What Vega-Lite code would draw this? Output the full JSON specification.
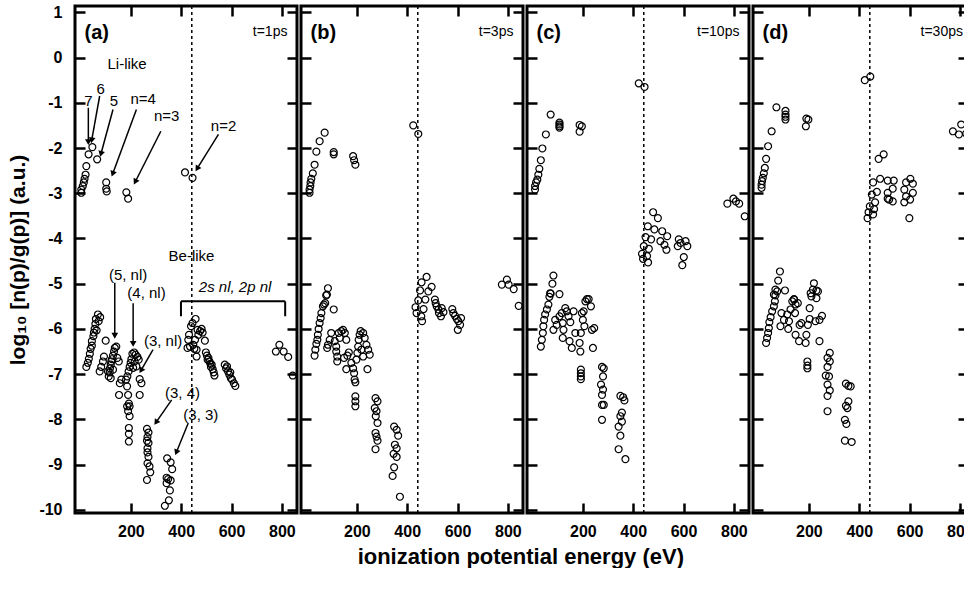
{
"$schema": "https://vega.github.io/schema/vega-lite/v6.json",
"background": "white",
"padding": {"left": 6, "top": 2, "right": 0, "bottom": 0},
"spacing": 4,
"bounds": "flush",
"title": {"text": "ionization potential energy (eV)", "orient": "bottom", "anchor": "middle", "frame": "bounds", "dx": 30, "fontSize": 22, "fontWeight": "bold", "font": "Liberation Sans", "color": "black", "offset": 6},
"config": {
  "font": "Liberation Sans",
  "view": {"stroke": "black", "strokeWidth": 3},
  "axis": {"domain": false, "grid": false, "ticks": true, "tickSize": -10, "tickWidth": 2.5, "tickColor": "black", "labelFont": "Liberation Sans", "labelFontSize": 16, "labelFontWeight": "bold", "labelColor": "black", "titleFont": "Liberation Sans", "titleColor": "black"},
  "point": {"shape": "circle", "filled": false, "stroke": "black", "strokeWidth": 1.2, "size": 48, "opacity": 1},
  "text": {"font": "Liberation Sans", "color": "black"}
},
"datasets": {
  "tags": [
    {"panel": "a", "tag": "(a)", "time": "t=1ps"},
    {"panel": "b", "tag": "(b)", "time": "t=3ps"},
    {"panel": "c", "tag": "(c)", "time": "t=10ps"},
    {"panel": "d", "tag": "(d)", "time": "t=30ps"}
  ],
  "notes": [
    {"text": "Li-like", "x": 185, "y": -0.15},
    {"text": "7", "x": 31, "y": -0.96},
    {"text": "6", "x": 80, "y": -0.70},
    {"text": "5", "x": 133, "y": -0.96},
    {"text": "n=4", "x": 249, "y": -0.91},
    {"text": "n=3", "x": 342, "y": -1.30},
    {"text": "n=2", "x": 568, "y": -1.52},
    {"text": "Be-like", "x": 441, "y": -4.39},
    {"text": "(5, nl)", "x": 189, "y": -4.80},
    {"text": "(4, nl)", "x": 262, "y": -5.21},
    {"text": "(3, nl)", "x": 328, "y": -6.27},
    {"text": "(3, 4)", "x": 405, "y": -7.42},
    {"text": "(3, 3)", "x": 478, "y": -7.90}
  ],
  "italicNotes": [
    {"text": "2s nl, 2p nl", "x": 614, "y": -5.08}
  ],
  "arrows": [
    {"x": 31, "y": -1.11, "x2": 31, "y2": -1.85, "angle": 180},
    {"x": 76, "y": -0.85, "x2": 45, "y2": -1.81, "angle": 190},
    {"x": 129, "y": -1.15, "x2": 82, "y2": -2.11, "angle": 195},
    {"x": 222, "y": -1.15, "x2": 129, "y2": -2.55, "angle": 200},
    {"x": 319, "y": -1.63, "x2": 219, "y2": -2.73, "angle": 207},
    {"x": 548, "y": -1.70, "x2": 465, "y2": -2.44, "angle": 212},
    {"x": 136, "y": -4.98, "x2": 136, "y2": -6.13, "angle": 180},
    {"x": 209, "y": -5.43, "x2": 209, "y2": -6.31, "angle": 180},
    {"x": 288, "y": -6.46, "x2": 242, "y2": -6.90, "angle": 210},
    {"x": 362, "y": -7.57, "x2": 302, "y2": -8.05, "angle": 215},
    {"x": 428, "y": -8.08, "x2": 382, "y2": -8.71, "angle": 202}
  ],
  "bracket": [
    {"x": 399, "y": -5.39, "x2": 813, "y2": -5.39},
    {"x": 399, "y": -5.39, "x2": 399, "y2": -5.72},
    {"x": 813, "y": -5.39, "x2": 813, "y2": -5.72}
  ],
  "a": [
    {"x":3,"y":-2.99},{"x":3,"y":-2.92},{"x":9,"y":-2.84},{"x":13,"y":-2.76},{"x":16,"y":-2.68},{"x":20,"y":-2.59},{"x":23,"y":-2.40},{"x":32,"y":-2.14},{"x":47,"y":-1.98},{"x":66,"y":-2.25},{"x":102,"y":-2.76},{"x":102,"y":-2.90},{"x":104,"y":-2.96},{"x":182,"y":-2.98},{"x":189,"y":-3.12},{"x":415,"y":-2.54},{"x":445,"y":-2.66},
    {"x":23,"y":-6.84},{"x":29,"y":-6.75},{"x":33,"y":-6.66},{"x":37,"y":-6.55},{"x":40,"y":-6.44},{"x":45,"y":-6.37},{"x":45,"y":-6.27},{"x":51,"y":-6.16},{"x":53,"y":-6.08},{"x":56,"y":-6.00},{"x":59,"y":-5.89},{"x":61,"y":-5.78},{"x":69,"y":-5.68},{"x":78,"y":-5.74},{"x":64,"y":-6.03},{"x":72,"y":-5.83},
    {"x":76,"y":-6.94},{"x":82,"y":-6.84},{"x":89,"y":-6.72},{"x":93,"y":-6.61},{"x":100,"y":-6.26},{"x":112,"y":-7.05},{"x":116,"y":-6.96},{"x":117,"y":-6.87},{"x":120,"y":-6.79},{"x":122,"y":-6.72},{"x":125,"y":-6.67},{"x":129,"y":-6.59},{"x":129,"y":-6.90},{"x":133,"y":-6.50},{"x":136,"y":-6.42},{"x":142,"y":-6.39},{"x":146,"y":-6.64},{"x":152,"y":-6.72},{"x":156,"y":-7.20},{"x":153,"y":-7.46},{"x":162,"y":-7.12},{"x":120,"y":-7.09},{"x":109,"y":-6.94},
    {"x":186,"y":-7.05},{"x":191,"y":-6.94},{"x":195,"y":-6.84},{"x":199,"y":-6.75},{"x":202,"y":-6.67},{"x":206,"y":-6.55},{"x":213,"y":-6.52},{"x":219,"y":-6.57},{"x":226,"y":-6.62},{"x":231,"y":-6.68},{"x":209,"y":-6.86},{"x":215,"y":-6.72},{"x":235,"y":-7.11},{"x":242,"y":-7.20},{"x":235,"y":-7.46},{"x":222,"y":-6.83},
    {"x":181,"y":-7.12},{"x":185,"y":-7.27},{"x":189,"y":-7.46},{"x":192,"y":-7.65},{"x":195,"y":-7.71},{"x":189,"y":-7.82},{"x":195,"y":-7.93},{"x":192,"y":-8.19},{"x":192,"y":-8.32},{"x":192,"y":-8.49},{"x":185,"y":-7.71},
    {"x":264,"y":-8.21},{"x":270,"y":-8.29},{"x":266,"y":-8.39},{"x":264,"y":-8.47},{"x":270,"y":-8.52},{"x":266,"y":-8.64},{"x":266,"y":-8.73},{"x":270,"y":-8.83},{"x":266,"y":-8.97},{"x":274,"y":-9.04},{"x":277,"y":-9.17},{"x":264,"y":-9.34},
    {"x":344,"y":-8.86},{"x":358,"y":-8.95},{"x":364,"y":-9.10},{"x":342,"y":-9.29},{"x":348,"y":-9.32},{"x":358,"y":-9.35},{"x":342,"y":-9.41},{"x":355,"y":-9.57},{"x":351,"y":-9.79},{"x":335,"y":-9.91},
    {"x":425,"y":-6.42},{"x":428,"y":-6.24},{"x":431,"y":-6.13},{"x":439,"y":-5.94},{"x":445,"y":-5.87},{"x":457,"y":-5.78},{"x":465,"y":-6.02},{"x":468,"y":-6.13},{"x":475,"y":-6.05},{"x":481,"y":-6.00},{"x":485,"y":-6.08},{"x":494,"y":-6.26},{"x":461,"y":-6.46},{"x":461,"y":-6.61},{"x":452,"y":-6.44},{"x":448,"y":-6.35},{"x":435,"y":-6.39},{"x":455,"y":-6.24},
    {"x":498,"y":-6.52},{"x":502,"y":-6.59},{"x":508,"y":-6.64},{"x":512,"y":-6.72},{"x":516,"y":-6.77},{"x":518,"y":-6.84},{"x":525,"y":-6.89},{"x":529,"y":-6.96},{"x":532,"y":-7.03},{"x":505,"y":-6.68},{"x":521,"y":-6.79},
    {"x":573,"y":-6.79},{"x":578,"y":-6.87},{"x":586,"y":-6.94},{"x":591,"y":-7.01},{"x":597,"y":-7.09},{"x":602,"y":-7.12},{"x":609,"y":-7.20},{"x":615,"y":-7.26},{"x":582,"y":-6.83},{"x":595,"y":-6.96},
    {"x":776,"y":-6.50},{"x":790,"y":-6.35},{"x":807,"y":-6.50},{"x":825,"y":-6.62},{"x":843,"y":-7.03}
  ],
  "b": [
    {"x":12,"y":-2.99},{"x":12,"y":-2.92},{"x":15,"y":-2.84},{"x":16,"y":-2.76},{"x":19,"y":-2.68},{"x":25,"y":-2.56},{"x":32,"y":-2.37},{"x":39,"y":-2.08},{"x":52,"y":-1.85},{"x":72,"y":-1.66},{"x":108,"y":-2.09},{"x":108,"y":-2.14},{"x":185,"y":-2.18},{"x":189,"y":-2.27},{"x":194,"y":-2.37},{"x":424,"y":-1.50},{"x":444,"y":-1.69},
    {"x":85,"y":-5.10},{"x":81,"y":-5.24},{"x":477,"y":-4.85},{"x":457,"y":-4.97},{"x":497,"y":-5.07},{"x":451,"y":-5.15},{"x":484,"y":-5.17},{"x":776,"y":-5.02},{"x":796,"y":-4.91},{"x":803,"y":-5.02},{"x":823,"y":-5.12},{"x":843,"y":-5.49},
    {"x":444,"y":-5.37},{"x":433,"y":-5.52},{"x":437,"y":-5.65},{"x":456,"y":-5.72},{"x":459,"y":-5.83},{"x":465,"y":-5.56},{"x":472,"y":-5.35},
    {"x":510,"y":-5.35},{"x":513,"y":-5.43},{"x":517,"y":-5.50},{"x":524,"y":-5.57},{"x":526,"y":-5.65},{"x":534,"y":-5.72},{"x":537,"y":-5.54},{"x":544,"y":-5.63},
    {"x":579,"y":-5.56},{"x":583,"y":-5.65},{"x":590,"y":-5.71},{"x":597,"y":-5.78},{"x":603,"y":-5.83},{"x":610,"y":-5.91},{"x":601,"y":-6.02},{"x":614,"y":-5.76},
    {"x":32,"y":-6.59},{"x":35,"y":-6.46},{"x":39,"y":-6.33},{"x":43,"y":-6.24},{"x":45,"y":-6.13},{"x":48,"y":-6.00},{"x":52,"y":-5.87},{"x":56,"y":-5.76},{"x":59,"y":-5.65},{"x":65,"y":-5.50},{"x":69,"y":-5.46},{"x":74,"y":-5.43},{"x":78,"y":-5.26},{"x":108,"y":-5.57},
    {"x":82,"y":-6.42},{"x":85,"y":-6.35},{"x":92,"y":-6.24},{"x":98,"y":-6.09},{"x":112,"y":-6.27},{"x":118,"y":-6.39},{"x":118,"y":-6.50},{"x":122,"y":-6.61},{"x":122,"y":-6.72},{"x":128,"y":-6.09},{"x":132,"y":-6.20},{"x":138,"y":-6.05},{"x":145,"y":-6.02},{"x":152,"y":-6.09},{"x":158,"y":-6.24},{"x":149,"y":-6.64},{"x":162,"y":-6.59},{"x":168,"y":-6.52},{"x":158,"y":-6.89},{"x":178,"y":-6.75},{"x":185,"y":-6.87},{"x":189,"y":-6.98},{"x":191,"y":-7.12},{"x":194,"y":-7.18},{"x":198,"y":-6.68},{"x":202,"y":-6.53},{"x":205,"y":-6.39},{"x":207,"y":-6.24},{"x":211,"y":-6.13},{"x":215,"y":-6.05},{"x":225,"y":-6.09},{"x":231,"y":-6.20},{"x":238,"y":-6.35},{"x":245,"y":-6.46},{"x":251,"y":-6.57},{"x":242,"y":-6.89},{"x":218,"y":-6.46},{"x":225,"y":-6.61},
    {"x":194,"y":-7.49},{"x":194,"y":-7.60},{"x":194,"y":-7.71},
    {"x":274,"y":-7.53},{"x":282,"y":-7.60},{"x":271,"y":-7.75},{"x":278,"y":-7.82},{"x":275,"y":-7.93},{"x":282,"y":-8.08},{"x":274,"y":-8.30},{"x":278,"y":-8.38},{"x":282,"y":-8.47},{"x":274,"y":-8.66},
    {"x":348,"y":-8.16},{"x":358,"y":-8.23},{"x":364,"y":-8.36},{"x":351,"y":-8.56},{"x":358,"y":-8.64},{"x":346,"y":-8.76},{"x":358,"y":-8.83},{"x":348,"y":-9.06},{"x":342,"y":-9.25},{"x":371,"y":-9.71}
  ],
  "c": [
    {"x":10,"y":-2.92},{"x":10,"y":-2.84},{"x":14,"y":-2.76},{"x":19,"y":-2.70},{"x":23,"y":-2.59},{"x":27,"y":-2.46},{"x":33,"y":-2.27},{"x":39,"y":-2.01},{"x":53,"y":-1.70},{"x":72,"y":-1.26},{"x":107,"y":-1.44},{"x":107,"y":-1.48},{"x":107,"y":-1.52},{"x":107,"y":-1.55},{"x":187,"y":-1.49},{"x":196,"y":-1.52},{"x":187,"y":-1.64},{"x":422,"y":-0.57},{"x":445,"y":-0.65},
    {"x":479,"y":-3.42},{"x":498,"y":-3.55},{"x":458,"y":-3.73},{"x":484,"y":-3.80},{"x":515,"y":-3.84},{"x":535,"y":-3.95},{"x":449,"y":-3.97},{"x":471,"y":-4.02},{"x":508,"y":-4.06},{"x":524,"y":-4.14},{"x":532,"y":-4.25},{"x":442,"y":-4.17},{"x":462,"y":-4.23},{"x":435,"y":-4.34},{"x":455,"y":-4.39},{"x":439,"y":-4.45},{"x":459,"y":-4.53},{"x":581,"y":-4.02},{"x":588,"y":-4.10},{"x":608,"y":-4.06},{"x":615,"y":-4.17},{"x":601,"y":-4.41},{"x":595,"y":-4.59},{"x":577,"y":-4.17},{"x":774,"y":-3.23},{"x":798,"y":-3.12},{"x":808,"y":-3.18},{"x":821,"y":-3.23},{"x":843,"y":-3.51},
    {"x":83,"y":-4.82},{"x":79,"y":-5.00},{"x":70,"y":-5.21},{"x":67,"y":-5.29},{"x":107,"y":-5.23},{"x":216,"y":-5.34},
    {"x":72,"y":-5.22},{"x":63,"y":-5.46},{"x":57,"y":-5.57},{"x":50,"y":-5.68},{"x":46,"y":-5.80},{"x":43,"y":-5.94},{"x":41,"y":-6.09},{"x":37,"y":-6.24},{"x":33,"y":-6.39},{"x":90,"y":-5.80},{"x":83,"y":-6.02},{"x":96,"y":-5.91},{"x":107,"y":-5.72},{"x":116,"y":-5.65},{"x":120,"y":-5.87},{"x":123,"y":-6.02},{"x":120,"y":-6.20},{"x":130,"y":-5.54},{"x":136,"y":-5.61},{"x":143,"y":-5.72},{"x":150,"y":-5.85},{"x":147,"y":-6.27},{"x":156,"y":-6.42},{"x":163,"y":-5.61},{"x":170,"y":-6.09},{"x":187,"y":-6.31},{"x":190,"y":-6.50},{"x":192,"y":-6.09},{"x":200,"y":-5.80},{"x":203,"y":-5.61},{"x":210,"y":-5.39},{"x":223,"y":-5.34},{"x":232,"y":-5.50},{"x":236,"y":-6.02},{"x":245,"y":-5.98},{"x":240,"y":-6.42},{"x":206,"y":-5.94},{"x":196,"y":-5.65},
    {"x":192,"y":-6.90},{"x":192,"y":-6.98},{"x":192,"y":-7.05},{"x":192,"y":-7.11},
    {"x":276,"y":-6.84},{"x":283,"y":-6.87},{"x":280,"y":-7.05},{"x":272,"y":-7.23},{"x":280,"y":-7.34},{"x":276,"y":-7.46},{"x":276,"y":-7.68},{"x":283,"y":-7.68},{"x":276,"y":-8.01},
    {"x":349,"y":-7.48},{"x":360,"y":-7.51},{"x":365,"y":-7.58},{"x":355,"y":-7.85},{"x":349,"y":-7.93},{"x":355,"y":-8.05},{"x":342,"y":-8.16},{"x":349,"y":-8.36},{"x":342,"y":-8.66},{"x":369,"y":-8.88}
  ],
  "d": [
    {"x":12,"y":-2.88},{"x":12,"y":-2.81},{"x":14,"y":-2.73},{"x":17,"y":-2.66},{"x":21,"y":-2.56},{"x":25,"y":-2.44},{"x":30,"y":-2.24},{"x":38,"y":-1.96},{"x":52,"y":-1.63},{"x":71,"y":-1.10},{"x":107,"y":-1.18},{"x":107,"y":-1.26},{"x":107,"y":-1.31},{"x":107,"y":-1.37},{"x":190,"y":-1.35},{"x":198,"y":-1.37},{"x":188,"y":-1.52},{"x":422,"y":-0.50},{"x":444,"y":-0.42},{"x":772,"y":-1.63},{"x":796,"y":-1.70},{"x":805,"y":-1.48},{"x":825,"y":-1.68},{"x":841,"y":-1.70},
    {"x":477,"y":-2.24},{"x":497,"y":-2.14},{"x":455,"y":-2.76},{"x":483,"y":-2.68},{"x":513,"y":-2.72},{"x":537,"y":-2.72},{"x":586,"y":-2.76},{"x":603,"y":-2.68},{"x":613,"y":-2.79},{"x":450,"y":-3.03},{"x":470,"y":-2.97},{"x":513,"y":-2.99},{"x":533,"y":-2.90},{"x":519,"y":-3.14},{"x":533,"y":-3.18},{"x":513,"y":-3.12},{"x":579,"y":-2.92},{"x":586,"y":-3.07},{"x":602,"y":-3.14},{"x":579,"y":-3.20},{"x":613,"y":-2.99},{"x":463,"y":-3.20},{"x":442,"y":-3.29},{"x":459,"y":-3.35},{"x":437,"y":-3.42},{"x":455,"y":-3.47},{"x":433,"y":-3.55},{"x":599,"y":-3.55},
    {"x":85,"y":-4.73},{"x":78,"y":-4.93},{"x":67,"y":-5.13},{"x":61,"y":-5.24},{"x":105,"y":-5.15},{"x":220,"y":-4.99},{"x":230,"y":-5.15},{"x":207,"y":-5.21},{"x":141,"y":-5.34},
    {"x":74,"y":-5.17},{"x":67,"y":-5.26},{"x":65,"y":-5.39},{"x":61,"y":-5.50},{"x":54,"y":-5.61},{"x":48,"y":-5.74},{"x":43,"y":-5.85},{"x":41,"y":-5.98},{"x":38,"y":-6.09},{"x":34,"y":-6.20},{"x":30,"y":-6.31},{"x":91,"y":-5.65},{"x":87,"y":-5.94},{"x":101,"y":-5.80},{"x":114,"y":-5.68},{"x":118,"y":-6.00},{"x":121,"y":-5.83},{"x":127,"y":-5.57},{"x":134,"y":-5.39},{"x":141,"y":-5.35},{"x":147,"y":-5.46},{"x":145,"y":-5.65},{"x":147,"y":-6.13},{"x":161,"y":-6.27},{"x":163,"y":-5.91},{"x":156,"y":-5.43},{"x":170,"y":-5.87},{"x":187,"y":-6.31},{"x":190,"y":-6.13},{"x":196,"y":-5.91},{"x":203,"y":-5.54},{"x":210,"y":-5.28},{"x":216,"y":-5.13},{"x":230,"y":-5.32},{"x":236,"y":-5.17},{"x":226,"y":-5.83},{"x":242,"y":-5.80},{"x":252,"y":-5.71},{"x":242,"y":-6.27},{"x":203,"y":-5.78},
    {"x":194,"y":-6.72},{"x":194,"y":-6.81},{"x":194,"y":-6.87},
    {"x":283,"y":-6.53},{"x":274,"y":-6.64},{"x":283,"y":-6.72},{"x":274,"y":-6.84},{"x":267,"y":-7.03},{"x":280,"y":-7.05},{"x":274,"y":-7.23},{"x":283,"y":-7.36},{"x":274,"y":-7.48},{"x":274,"y":-7.82},
    {"x":347,"y":-7.21},{"x":357,"y":-7.26},{"x":366,"y":-7.27},{"x":357,"y":-7.60},{"x":347,"y":-7.70},{"x":353,"y":-7.75},{"x":343,"y":-8.01},{"x":349,"y":-8.10},{"x":343,"y":-8.47},{"x":370,"y":-8.50}
  ]
},
"hconcat": [
  {
    "width": 222, "height": 507,
    "layer": [
      {"data": {"name": "a"}, "mark": {"type": "point", "clip": true},
       "encoding": {
         "x": {"field": "x", "type": "quantitative", "scale": {"domain": [-22, 860], "nice": false, "zero": false}, "axis": {"orient": "bottom", "values": [200, 400, 600, 800], "title": null, "labelPadding": 20, "labelDx": -6, "labelExpr": "datum.value + ''"}},
         "y": {"field": "y", "type": "quantitative", "scale": {"domain": [-10.07, 1.14], "nice": false, "zero": false}, "axis": {"orient": "left", "values": [-10, -9, -8, -7, -6, -5, -4, -3, -2, -1, 0, 1], "title": "log₁₀ [n(p)/g(p)] (a.u.)", "titleFontSize": 21, "titleFontWeight": "bold", "titlePadding": 10, "labelPadding": 23, "labelExpr": "datum.value + ''"}}
       }},
      {"data": {"name": "a"}, "mark": {"type": "point", "opacity": 0},
       "encoding": {
         "x": {"field": "x", "type": "quantitative", "axis": {"orient": "top", "values": [200, 400, 600, 800], "labels": false, "title": null}},
         "y": {"field": "y", "type": "quantitative", "axis": {"orient": "right", "values": [-10, -9, -8, -7, -6, -5, -4, -3, -2, -1, 0, 1], "labels": false, "title": null}}
       }},
      {"data": {"values": [{}]}, "mark": {"type": "rule", "strokeDash": [3, 3], "strokeWidth": 1.5, "color": "black"},
       "encoding": {"x": {"datum": 442, "type": "quantitative", "axis": null}}},
      {"data": {"name": "tags"}, "transform": [{"filter": "datum.panel === 'a'"}],
       "mark": {"type": "text", "align": "left", "baseline": "middle", "fontSize": 20, "fontWeight": "bold"},
       "encoding": {"x": {"datum": 16, "type": "quantitative", "axis": null}, "y": {"datum": 0.55, "type": "quantitative", "axis": null}, "text": {"field": "tag"}}},
      {"data": {"name": "tags"}, "transform": [{"filter": "datum.panel === 'a'"}],
       "mark": {"type": "text", "align": "right", "baseline": "middle", "fontSize": 14},
       "encoding": {"x": {"datum": 822, "type": "quantitative", "axis": null}, "y": {"datum": 0.57, "type": "quantitative", "axis": null}, "text": {"field": "time"}}},
      {"data": {"name": "notes"},
       "mark": {"type": "text", "align": "center", "baseline": "middle", "fontSize": 15},
       "encoding": {"x": {"field": "x", "type": "quantitative", "axis": null}, "y": {"field": "y", "type": "quantitative", "axis": null}, "text": {"field": "text"}}},
      {"data": {"name": "italicNotes"},
       "mark": {"type": "text", "align": "center", "baseline": "middle", "fontSize": 15, "fontStyle": "italic"},
       "encoding": {"x": {"field": "x", "type": "quantitative", "axis": null}, "y": {"field": "y", "type": "quantitative", "axis": null}, "text": {"field": "text"}}},
      {"data": {"name": "arrows"},
       "mark": {"type": "rule", "strokeWidth": 1.5, "color": "black"},
       "encoding": {"x": {"field": "x", "type": "quantitative", "axis": null}, "y": {"field": "y", "type": "quantitative", "axis": null}, "x2": {"field": "x2"}, "y2": {"field": "y2"}}},
      {"data": {"name": "arrows"},
       "mark": {"type": "point", "shape": "triangle", "filled": true, "color": "black", "strokeWidth": 0, "size": 45},
       "encoding": {"x": {"field": "x2", "type": "quantitative", "axis": null}, "y": {"field": "y2", "type": "quantitative", "axis": null}, "angle": {"field": "angle", "type": "quantitative", "scale": null}}},
      {"data": {"name": "bracket"},
       "mark": {"type": "rule", "strokeWidth": 2, "color": "black"},
       "encoding": {"x": {"field": "x", "type": "quantitative", "axis": null}, "y": {"field": "y", "type": "quantitative", "axis": null}, "x2": {"field": "x2"}, "y2": {"field": "y2"}}}
    ],
    "resolve": {"axis": {"x": "independent", "y": "independent"}}
  },
  {
    "width": 222, "height": 507,
    "layer": [
      {"data": {"name": "b"}, "mark": {"type": "point", "clip": true},
       "encoding": {
         "x": {"field": "x", "type": "quantitative", "scale": {"domain": [-22, 860], "nice": false, "zero": false}, "axis": {"orient": "bottom", "values": [200, 400, 600, 800], "title": null, "labelPadding": 20, "labelDx": -6, "labelExpr": "datum.value + ''"}},
         "y": {"field": "y", "type": "quantitative", "scale": {"domain": [-10.07, 1.14], "nice": false, "zero": false}, "axis": {"orient": "left", "values": [-10, -9, -8, -7, -6, -5, -4, -3, -2, -1, 0, 1], "labels": false, "title": null}}
       }},
      {"data": {"name": "b"}, "mark": {"type": "point", "opacity": 0},
       "encoding": {
         "x": {"field": "x", "type": "quantitative", "axis": {"orient": "top", "values": [200, 400, 600, 800], "labels": false, "title": null}},
         "y": {"field": "y", "type": "quantitative", "axis": {"orient": "right", "values": [-10, -9, -8, -7, -6, -5, -4, -3, -2, -1, 0, 1], "labels": false, "title": null}}
       }},
      {"data": {"values": [{}]}, "mark": {"type": "rule", "strokeDash": [3, 3], "strokeWidth": 1.5, "color": "black"},
       "encoding": {"x": {"datum": 442, "type": "quantitative", "axis": null}}},
      {"data": {"name": "tags"}, "transform": [{"filter": "datum.panel === 'b'"}],
       "mark": {"type": "text", "align": "left", "baseline": "middle", "fontSize": 20, "fontWeight": "bold"},
       "encoding": {"x": {"datum": 16, "type": "quantitative", "axis": null}, "y": {"datum": 0.55, "type": "quantitative", "axis": null}, "text": {"field": "tag"}}},
      {"data": {"name": "tags"}, "transform": [{"filter": "datum.panel === 'b'"}],
       "mark": {"type": "text", "align": "right", "baseline": "middle", "fontSize": 14},
       "encoding": {"x": {"datum": 822, "type": "quantitative", "axis": null}, "y": {"datum": 0.57, "type": "quantitative", "axis": null}, "text": {"field": "time"}}}
    ],
    "resolve": {"axis": {"x": "independent", "y": "independent"}}
  },
  {
    "width": 222, "height": 507,
    "layer": [
      {"data": {"name": "c"}, "mark": {"type": "point", "clip": true},
       "encoding": {
         "x": {"field": "x", "type": "quantitative", "scale": {"domain": [-22, 860], "nice": false, "zero": false}, "axis": {"orient": "bottom", "values": [200, 400, 600, 800], "title": null, "labelPadding": 20, "labelDx": -6, "labelExpr": "datum.value + ''"}},
         "y": {"field": "y", "type": "quantitative", "scale": {"domain": [-10.07, 1.14], "nice": false, "zero": false}, "axis": {"orient": "left", "values": [-10, -9, -8, -7, -6, -5, -4, -3, -2, -1, 0, 1], "labels": false, "title": null}}
       }},
      {"data": {"name": "c"}, "mark": {"type": "point", "opacity": 0},
       "encoding": {
         "x": {"field": "x", "type": "quantitative", "axis": {"orient": "top", "values": [200, 400, 600, 800], "labels": false, "title": null}},
         "y": {"field": "y", "type": "quantitative", "axis": {"orient": "right", "values": [-10, -9, -8, -7, -6, -5, -4, -3, -2, -1, 0, 1], "labels": false, "title": null}}
       }},
      {"data": {"values": [{}]}, "mark": {"type": "rule", "strokeDash": [3, 3], "strokeWidth": 1.5, "color": "black"},
       "encoding": {"x": {"datum": 442, "type": "quantitative", "axis": null}}},
      {"data": {"name": "tags"}, "transform": [{"filter": "datum.panel === 'c'"}],
       "mark": {"type": "text", "align": "left", "baseline": "middle", "fontSize": 20, "fontWeight": "bold"},
       "encoding": {"x": {"datum": 16, "type": "quantitative", "axis": null}, "y": {"datum": 0.55, "type": "quantitative", "axis": null}, "text": {"field": "tag"}}},
      {"data": {"name": "tags"}, "transform": [{"filter": "datum.panel === 'c'"}],
       "mark": {"type": "text", "align": "right", "baseline": "middle", "fontSize": 14},
       "encoding": {"x": {"datum": 822, "type": "quantitative", "axis": null}, "y": {"datum": 0.57, "type": "quantitative", "axis": null}, "text": {"field": "time"}}}
    ],
    "resolve": {"axis": {"x": "independent", "y": "independent"}}
  },
  {
    "width": 215, "height": 507,
    "layer": [
      {"data": {"name": "d"}, "mark": {"type": "point", "clip": true},
       "encoding": {
         "x": {"field": "x", "type": "quantitative", "scale": {"domain": [-22, 832], "nice": false, "zero": false}, "axis": {"orient": "bottom", "values": [200, 400, 600, 800], "title": null, "labelPadding": 20, "labelDx": -9, "labelExpr": "datum.value + ''"}},
         "y": {"field": "y", "type": "quantitative", "scale": {"domain": [-10.07, 1.14], "nice": false, "zero": false}, "axis": {"orient": "left", "values": [-10, -9, -8, -7, -6, -5, -4, -3, -2, -1, 0, 1], "labels": false, "title": null}}
       }},
      {"data": {"name": "d"}, "mark": {"type": "point", "opacity": 0},
       "encoding": {
         "x": {"field": "x", "type": "quantitative", "axis": {"orient": "top", "values": [200, 400, 600, 800], "labels": false, "title": null}},
         "y": {"field": "y", "type": "quantitative", "axis": {"orient": "right", "values": [-10, -9, -8, -7, -6, -5, -4, -3, -2, -1, 0, 1], "labels": false, "title": null}}
       }},
      {"data": {"values": [{}]}, "mark": {"type": "rule", "strokeDash": [3, 3], "strokeWidth": 1.5, "color": "black"},
       "encoding": {"x": {"datum": 442, "type": "quantitative", "axis": null}}},
      {"data": {"name": "tags"}, "transform": [{"filter": "datum.panel === 'd'"}],
       "mark": {"type": "text", "align": "left", "baseline": "middle", "fontSize": 20, "fontWeight": "bold"},
       "encoding": {"x": {"datum": 16, "type": "quantitative", "axis": null}, "y": {"datum": 0.55, "type": "quantitative", "axis": null}, "text": {"field": "tag"}}},
      {"data": {"name": "tags"}, "transform": [{"filter": "datum.panel === 'd'"}],
       "mark": {"type": "text", "align": "right", "baseline": "middle", "fontSize": 14},
       "encoding": {"x": {"datum": 812, "type": "quantitative", "axis": null}, "y": {"datum": 0.57, "type": "quantitative", "axis": null}, "text": {"field": "time"}}}
    ],
    "resolve": {"axis": {"x": "independent", "y": "independent"}}
  }
]
}
